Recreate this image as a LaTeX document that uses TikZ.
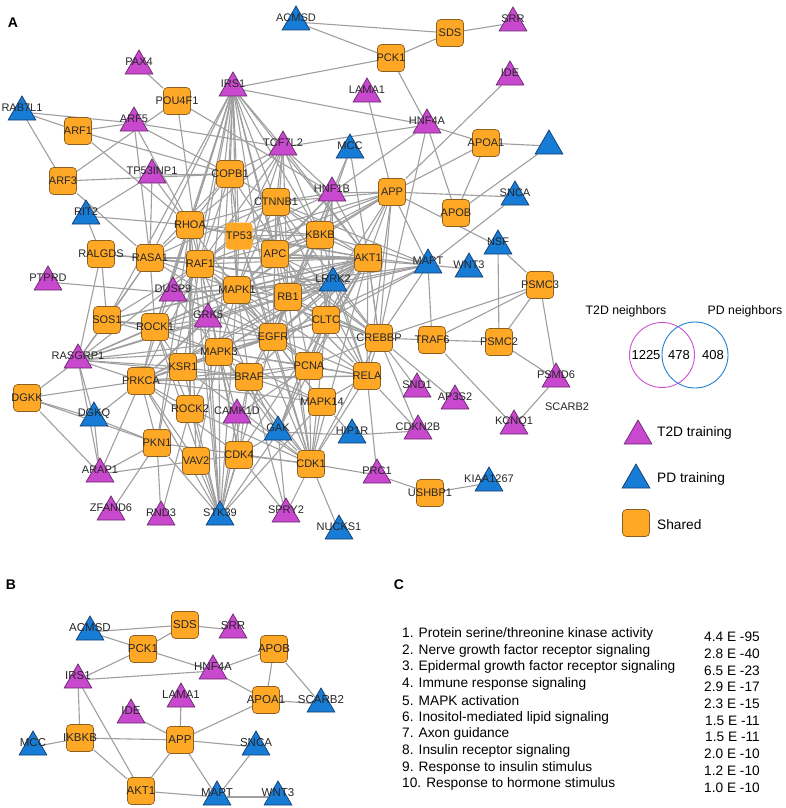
\documentclass[tikz,border=0pt]{standalone}
\usepackage{fontspec}
\setmainfont{Liberation Sans}
\setsansfont{Liberation Sans}
\usetikzlibrary{positioning, shapes.geometric, backgrounds}

\definecolor{t2dFill}{RGB}{200,72,206}
\definecolor{t2dLine}{RGB}{105,40,110}
\definecolor{pdFill}{RGB}{22,124,214}
\definecolor{pdLine}{RGB}{20,60,110}
\definecolor{shareFill}{RGB}{255,168,38}
\definecolor{shareLine}{RGB}{140,95,30}
\definecolor{vennT2D}{RGB}{205,80,210}
\definecolor{vennPD}{RGB}{35,130,210}

\begin{document}
\begin{tikzpicture}[
		x=1pt, y=-1pt,
		font=\sffamily,
		% Gene node styles (label drawn on top, shape keeps a fixed size)
		geneLabel/.style={font=\fontsize{11}{12}\selectfont, text=black!85, inner sep=0pt},
		sharedBox/.style={draw=shareLine, fill=shareFill, rounded corners=4pt, minimum size=27pt, inner sep=0pt, line width=0.7pt, label={[geneLabel]center:#1}},
		triBase/.style={regular polygon, regular polygon sides=3, minimum size=32pt, inner sep=0pt, line width=0.7pt},
		t2dTri/.style={triBase, draw=t2dLine, fill=t2dFill, label={[geneLabel, yshift=4pt]center:#1}},
		pdTri/.style={triBase, draw=pdLine, fill=pdFill, label={[geneLabel, yshift=4pt]center:#1}},
		% Connector and text styles
		linkLine/.style={draw=gray!75, line width=1.1pt},
		panelLetter/.style={font=\fontsize{14}{16}\selectfont\bfseries, inner sep=0pt},
		legendText/.style={font=\fontsize{13.7}{16}\selectfont, anchor=west, inner sep=0pt},
		termText/.style={font=\fontsize{13.7}{16}\selectfont, anchor=west, inner sep=0pt},
		pvalText/.style={font=\fontsize{13.7}{16}\selectfont, anchor=east, inner sep=0pt}
		]
		\useasboundingbox (0,0) rectangle (786,808);
		
		% =========================================================
		% PANEL A: T2D / PD NETWORK
		% =========================================================
		\node[panelLetter] (letA) at (13,23) {A};
		
		% T2D training genes
		\node[t2dTri=PAX4] (PAX4) at (139,66) {};
		\node[t2dTri=IRS1] (IRS1) at (233,88) {};
		\node[t2dTri=ARF5] (ARF5) at (134,123) {};
		\node[t2dTri=TP53INP1] (TP53INP1) at (152,175) {};
		\node[t2dTri=LAMA1] (LAMA1) at (367,94) {};
		\node[t2dTri=IDE] (IDE) at (510,77) {};
		\node[t2dTri=SRR] (SRR) at (513,23) {};
		\node[t2dTri=HNF4A] (HNF4A) at (427,125) {};
		\node[t2dTri=TCF7L2] (TCF7L2) at (283,147) {};
		\node[t2dTri=HNF1B] (HNF1B) at (332,193) {};
		\node[t2dTri=PTPRD] (PTPRD) at (48,282) {};
		\node[t2dTri=DUSP9] (DUSP9) at (173,293) {};
		\node[t2dTri=GRK5] (GRK5) at (208,319) {};
		\node[t2dTri=RASGRP1] (RASGRP1) at (78,360) {};
		\node[t2dTri=CAMK1D] (CAMK1D) at (237,415) {};
		\node[t2dTri=ARAP1] (ARAP1) at (100,474) {};
		\node[t2dTri=ZFAND6] (ZFAND6) at (111,512) {};
		\node[t2dTri=RND3] (RND3) at (161,517) {};
		\node[t2dTri=SPRY2] (SPRY2) at (286,514) {};
		\node[t2dTri=SND1] (SND1) at (417,389) {};
		\node[t2dTri=AP3S2] (AP3S2) at (455,401) {};
		\node[t2dTri=CDKN2B] (CDKN2B) at (418,431) {};
		\node[t2dTri=KCNQ1] (KCNQ1) at (514,426) {};
		\node[t2dTri=PRC1] (PRC1) at (377,475) {};
		\node[t2dTri=PSMD6] (PSMD6) at (556,379) {};
		
		% PD training genes
		\node[pdTri=ACMSD] (ACMSD) at (296,22) {};
		\node[pdTri=RAB7L1] (RAB7L1) at (22,112) {};
		\node[pdTri=MCC] (MCC) at (350,150) {};
		\node[pdTri={}] (SCARBt) at (549,146) {};
		\node[pdTri=SNCA] (SNCA) at (515,197) {};
		\node[pdTri=RIT2] (RIT2) at (86,216) {};
		\node[pdTri=NSF] (NSF) at (498,246) {};
		\node[pdTri=MAPT] (MAPT) at (428,265) {};
		\node[pdTri=WNT3] (WNT3) at (469,269) {};
		\node[pdTri=LRRK2] (LRRK2) at (333,283) {};
		\node[pdTri=DGKQ] (DGKQ) at (94,418) {};
		\node[pdTri=GAK] (GAK) at (278,432) {};
		\node[pdTri=HIP1R] (HIP1R) at (352,435) {};
		\node[pdTri=STK39] (STK39) at (220,517) {};
		\node[pdTri=KIAA1267] (KIAA1267) at (489,483) {};
		\node[pdTri=NUCKS1] (NUCKS1) at (339,531) {};
		\node[geneLabel] (scarbLbl) at (567,407) {SCARB2};
		
		% Shared genes
		\node[sharedBox=POU4F1] (POU4F1) at (177,101) {};
		\node[sharedBox=ARF1] (ARF1) at (78,131) {};
		\node[sharedBox=COPB1] (COPB1) at (230,174) {};
		\node[sharedBox=ARF3] (ARF3) at (63,181) {};
		\node[sharedBox=SDS] (SDS) at (450,33) {};
		\node[sharedBox=PCK1] (PCK1) at (391,58) {};
		\node[sharedBox=APOA1] (APOA1) at (486,143) {};
		\node[sharedBox=APP] (APP) at (392,192) {};
		\node[sharedBox=CTNNB1] (CTNNB1) at (276,202) {};
		\node[sharedBox=RHOA] (RHOA) at (190,225) {};
		\node[sharedBox=TP53, draw=none] (TP53) at (239,236) {};
		\node[sharedBox=KBKB] (KBKB) at (320,235) {};
		\node[sharedBox=APOB] (APOB) at (456,213) {};
		\node[sharedBox=RALGDS] (RALGDS) at (101,254) {};
		\node[sharedBox=RASA1] (RASA1) at (150,258) {};
		\node[sharedBox=APC] (APC) at (275,254) {};
		\node[sharedBox=AKT1] (AKT1) at (368,258) {};
		\node[sharedBox=RAF1] (RAF1) at (200,264) {};
		\node[sharedBox=MAPK1] (MAPK1) at (237,290) {};
		\node[sharedBox=RB1] (RB1) at (288,297) {};
		\node[sharedBox=PSMC3] (PSMC3) at (540,285) {};
		\node[sharedBox=SOS1] (SOS1) at (107,320) {};
		\node[sharedBox=ROCK1] (ROCK1) at (155,327) {};
		\node[sharedBox=CLTC] (CLTC) at (326,320) {};
		\node[sharedBox=EGFR] (EGFR) at (273,337) {};
		\node[sharedBox=CREBBP] (CREBBP) at (379,338) {};
		\node[sharedBox=TRAF6] (TRAF6) at (432,340) {};
		\node[sharedBox=PSMC2] (PSMC2) at (499,342) {};
		\node[sharedBox=MAPK3] (MAPK3) at (219,352) {};
		\node[sharedBox=KSR1] (KSR1) at (183,367) {};
		\node[sharedBox=PCNA] (PCNA) at (309,366) {};
		\node[sharedBox=RELA] (RELA) at (367,376) {};
		\node[sharedBox=BRAF] (BRAF) at (249,377) {};
		\node[sharedBox=PRKCA] (PRKCA) at (141,381) {};
		\node[sharedBox=DGKK] (DGKK) at (27,398) {};
		\node[sharedBox=MAPK14] (MAPK14) at (322,402) {};
		\node[sharedBox=ROCK2] (ROCK2) at (190,409) {};
		\node[sharedBox=PKN1] (PKN1) at (157,443) {};
		\node[sharedBox=CDK4] (CDK4) at (239,455) {};
		\node[sharedBox=VAV2] (VAV2) at (196,461) {};
		\node[sharedBox=CDK1] (CDK1) at (311,464) {};
		\node[sharedBox=USHBP1] (USHBP1) at (430,493) {};
		
		% =========================================================
		% LEGEND: VENN DIAGRAM AND NODE TYPES
		% =========================================================
		\node[font=\fontsize{12.3}{14}\selectfont] (t2dNb) at (626,311) {T2D neighbors};
		\node[font=\fontsize{12.3}{14}\selectfont] (pdNb) at (745,311) {PD neighbors};
		\node[circle, draw=vennT2D, line width=0.9pt, minimum size=65pt] (t2dSet) at (662,355) {};
		\node[circle, draw=vennPD, line width=0.9pt, minimum size=66pt] (pdSet) at (695,355) {};
		\node[font=\fontsize{13}{15}\selectfont] (onlyT2D) at (646,355) {1225};
		\node[font=\fontsize{13}{15}\selectfont] (bothSets) at (679,355) {478};
		\node[font=\fontsize{13}{15}\selectfont] (onlyPD) at (713,355) {408};
		
		\node[t2dTri={}] (legT2D) at (638,436) {};
		\node[legendText] (legT2DTxt) at (657,433) {T2D training};
		\node[pdTri={}] (legPD) at (636,480) {};
		\node[legendText] (legPDTxt) at (657,479) {PD training};
		\node[sharedBox={}] (legShared) at (636,523) {};
		\node[legendText] (legSharedTxt) at (657,525) {Shared};
		
		% =========================================================
		% PANEL B: SUBNETWORK
		% =========================================================
		\node[panelLetter] (letB) at (11,585) {B};
		\begin{scope}[geneLabel/.append style={font=\fontsize{11.5}{13}\selectfont}]
			\node[pdTri=ACMSD] (bACMSD) at (90,632) {};
			\node[t2dTri=SRR] (bSRR) at (233,630) {};
			\node[t2dTri=HNF4A] (bHNF4A) at (213,671) {};
			\node[t2dTri=IRS1] (bIRS1) at (78,680) {};
			\node[t2dTri=LAMA1] (bLAMA1) at (181,699) {};
			\node[t2dTri=IDE] (bIDE) at (131,715) {};
			\node[pdTri=SCARB2] (bSCARB2) at (321,704) {};
			\node[pdTri=MCC] (bMCC) at (33,747) {};
			\node[pdTri=SNCA] (bSNCA) at (256,747) {};
			\node[pdTri=MAPT] (bMAPT) at (217,797) {};
			\node[pdTri=WNT3] (bWNT3) at (278,797) {};
			\node[sharedBox=SDS] (bSDS) at (185,625) {};
			\node[sharedBox=PCK1] (bPCK1) at (143,649) {};
			\node[sharedBox=APOB] (bAPOB) at (274,649) {};
			\node[sharedBox=APOA1] (bAPOA1) at (266,700) {};
			\node[sharedBox=IKBKB] (bIKBKB) at (80,738) {};
			\node[sharedBox=APP] (bAPP) at (180,740) {};
			\node[sharedBox=AKT1] (bAKT1) at (141,791) {};
		\end{scope}
		
		% =========================================================
		% PANEL C: ENRICHED TERMS
		% =========================================================
		\node[panelLetter] (letC) at (399,585) {C};
		\foreach \i/\term/\pval in {
			1/{Protein serine/threonine kinase activity}/4.4 E -95,
			2/{Nerve growth factor receptor signaling}/2.8 E -40,
			3/{Epidermal growth factor receptor signaling}/6.5 E -23,
			4/{Immune response signaling}/2.9 E -17,
			5/{MAPK activation}/2.3 E -15,
			6/{Inositol-mediated lipid signaling}/1.5 E -11,
			7/{Axon guidance}/1.5 E -11,
			8/{Insulin receptor signaling}/2.0 E -10,
			9/{Response to insulin stimulus}/1.2 E -10,
			10/{Response to hormone stimulus}/1.0 E -10}{
			\node[termText] (term\i) at (402,{634+16.7*(\i-1)}) {\i. \term};
			\node[pvalText] (pval\i) at (760,{637+16.7*(\i-1)}) {\pval};
		}
		
		% =========================================================
		% CONNECTORS (behind the nodes)
		% =========================================================
		\begin{scope}[on background layer]
			\fill[white] (0,0) rectangle (786,808);
			
			% Outer edges of network A
			\foreach \u/\v in {ACMSD/SDS, ACMSD/PCK1, SDS/SRR, SDS/PCK1, PCK1/IRS1, PCK1/HNF4A, IRS1/HNF4A,
				IDE/APP, LAMA1/APP, HNF4A/TCF7L2, HNF4A/APOA1, HNF4A/HNF1B, HNF4A/APOB, HNF4A/CREBBP,
				APOA1/SCARBt, APOA1/APP, APOA1/APOB, SCARBt/APOB, PAX4/POU4F1,
				RAB7L1/ARF5, RAB7L1/ARF1, RAB7L1/ARF3, ARF1/ARF5, ARF5/COPB1, ARF1/COPB1, ARF1/RHOA,
				ARF3/POU4F1, ARF3/COPB1, ARF3/RASA1, ARF5/RASA1, ARF5/RHOA, ARF5/TCF7L2, POU4F1/RAF1,
				POU4F1/HNF1B, TP53INP1/COPB1, TP53INP1/RASA1, TP53INP1/MAPK1, RIT2/RALGDS, RIT2/RHOA,
				RIT2/TP53INP1, RALGDS/RASA1, RALGDS/RAF1, RALGDS/SOS1, RALGDS/RASGRP1, PTPRD/DUSP9,
				SOS1/RASGRP1, DGKK/RASGRP1, DGKK/PRKCA, DGKK/DGKQ, DGKK/PKN1, DGKK/ARAP1, DGKQ/ARAP1,
				DGKQ/PRKCA, DGKQ/RASGRP1, DGKQ/PKN1, ARAP1/PKN1, ARAP1/VAV2, ARAP1/PRKCA, ARAP1/RASGRP1,
				ZFAND6/PKN1, RND3/PKN1, RND3/ROCK2, VAV2/CDK4, CDK1/PRC1, PRC1/USHBP1, USHBP1/KIAA1267,
				CDK1/NUCKS1, CDK1/SPRY2, RELA/PRC1, RELA/CDKN2B, CREBBP/CDKN2B, HIP1R/CDKN2B, HIP1R/MAPK14,
				HIP1R/GAK, CREBBP/SND1, CREBBP/AP3S2, TRAF6/KCNQ1, PSMD6/KCNQ1, APP/SNCA, APP/NSF,
				SNCA/MAPT, AKT1/MAPT, MAPT/WNT3, NSF/PSMC2, NSF/PSMC3, PSMC3/CREBBP, PSMC3/TRAF6,
				PSMC3/PSMC2, PSMC3/PSMD6, TRAF6/PSMC2, CREBBP/TRAF6, MAPT/TRAF6, MAPT/CREBBP, PSMC2/PSMD6,
				MCC/HNF1B, MCC/KBKB, MCC/AKT1, SPRY2/CDK4, SPRY2/GAK, SPRY2/BRAF}
				{\draw[linkLine] (\u) -- (\v);}
			
			% Dense core of network A (hub to neighbours)
			\foreach \hub/\nbrs in {
				IRS1/{TCF7L2,COPB1,RHOA,TP53,CTNNB1,APC,RAF1,RASA1,MAPK1,KBKB,AKT1,PRKCA,ROCK1,MAPK3,SOS1,EGFR,PKN1,RB1,GRK5},
				STK39/{PKN1,VAV2,CDK4,ROCK2,ROCK1,CAMK1D,MAPK3,KSR1,PRKCA,BRAF,GAK,EGFR,MAPK1,RAF1,MAPK14,RHOA,GRK5},
				AKT1/{RASA1,RAF1,APC,TP53,MAPK1,RB1,EGFR,CTNNB1,KBKB,CLTC,LRRK2,PCNA,MAPK3,BRAF,GRK5,DUSP9,RHOA,PRKCA,ROCK1,CDK4,RELA,CREBBP,CDK1,GAK,SOS1},
				APP/{AKT1,KBKB,LRRK2,CTNNB1,APC,MAPK1,CLTC,MAPT,CREBBP,RELA,TP53,RAF1,HNF1B},
				HNF1B/{CTNNB1,APC,KBKB,AKT1,TP53,RB1,MAPK1,LRRK2,CLTC,EGFR,TCF7L2},
				TCF7L2/{CTNNB1,APC,RHOA,TP53,RAF1,MAPK1,KBKB,RB1,AKT1,COPB1},
				COPB1/{RHOA,RASA1,TP53,RAF1,MAPK1,CLTC,CTNNB1},
				RASGRP1/{RAF1,MAPK1,MAPK3,KSR1,BRAF,PRKCA,ROCK1,EGFR,RB1,GRK5,RASA1},
				PRKCA/{RAF1,MAPK1,MAPK3,EGFR,KSR1,BRAF,CDK4,ROCK1,ROCK2,GRK5,PCNA,CLTC,RELA,MAPK14,PKN1,VAV2},
				CDK1/{RB1,PCNA,EGFR,MAPK1,MAPK3,BRAF,MAPK14,RELA,CDK4,GAK,CAMK1D,ROCK2,KSR1,TP53,APC,CLTC,CREBBP,PKN1},
				EGFR/{RAF1,RASA1,MAPK1,MAPK3,BRAF,KSR1,PCNA,CLTC,RB1,APC,CTNNB1,TP53,MAPK14,RELA,CREBBP,GRK5,LRRK2,SOS1,DUSP9},
				MAPK1/{RAF1,RASA1,MAPK3,BRAF,KSR1,RB1,APC,CTNNB1,TP53,RELA,CREBBP,MAPK14,PCNA,CLTC,DUSP9,ROCK1,SOS1,GRK5},
				RAF1/{RASA1,MAPK3,BRAF,KSR1,RHOA,TP53,CREBBP,PCNA,CDK4,ROCK1,SOS1},
				MAPK3/{BRAF,KSR1,ROCK1,ROCK2,PCNA,CLTC,RELA,MAPK14,GAK,CDK4,VAV2,CAMK1D,DUSP9,SOS1},
				BRAF/{KSR1,PCNA,RB1,MAPK14,RELA,GAK,CDK4},
				CLTC/{LRRK2,RB1,PCNA,CREBBP,RELA,GAK},
				RELA/{CREBBP,PCNA,MAPK14,RB1,LRRK2,CTNNB1},
				CREBBP/{AKT1,LRRK2,RB1,PCNA,TP53,CTNNB1,APC},
				ROCK1/{RHOA,ROCK2,GRK5,KSR1,RASA1},
				RHOA/{TP53,ROCK2,RASA1,VAV2,PKN1},
				MAPT/{KBKB,CTNNB1,APC,LRRK2,RB1,EGFR,MAPK1,CLTC},
				LRRK2/{RAF1,MAPK1,RASA1,EGFR,APC,RB1,MAPK3,GRK5,DUSP9,PRKCA},
				KBKB/{RHOA,RAF1,MAPK1,RB1,EGFR,CTNNB1,APC,TP53,RELA,CLTC},
				CTNNB1/{RHOA,RAF1,RASA1,APC,TP53,RB1,PCNA},
				GAK/{CLTC,LRRK2,CDK4},
				CAMK1D/{CDK4,PCNA},
				SOS1/{ROCK1,RASA1}}{
				\foreach \nb in \nbrs {\draw[linkLine] (\hub) -- (\nb);}
			}
			
			% Edges of network B
			\foreach \u/\v in {bACMSD/bSDS, bACMSD/bPCK1, bSDS/bSRR, bSDS/bPCK1, bPCK1/bIRS1, bPCK1/bHNF4A,
				bIRS1/bHNF4A, bHNF4A/bAPOB, bHNF4A/bAPOA1, bAPOB/bAPOA1, bAPOB/bSCARB2, bAPOA1/bSCARB2,
				bAPOA1/bAPP, bLAMA1/bAPP, bIDE/bAPP, bIRS1/bIKBKB, bIRS1/bAKT1, bMCC/bIKBKB, bIKBKB/bAPP,
				bIKBKB/bAKT1, bAPP/bSNCA, bAPP/bAKT1, bAPP/bMAPT, bSNCA/bMAPT, bAKT1/bMAPT, bMAPT/bWNT3}
				{\draw[linkLine] (\u) -- (\v);}
		\end{scope}
		
	\end{tikzpicture}
\end{document}
